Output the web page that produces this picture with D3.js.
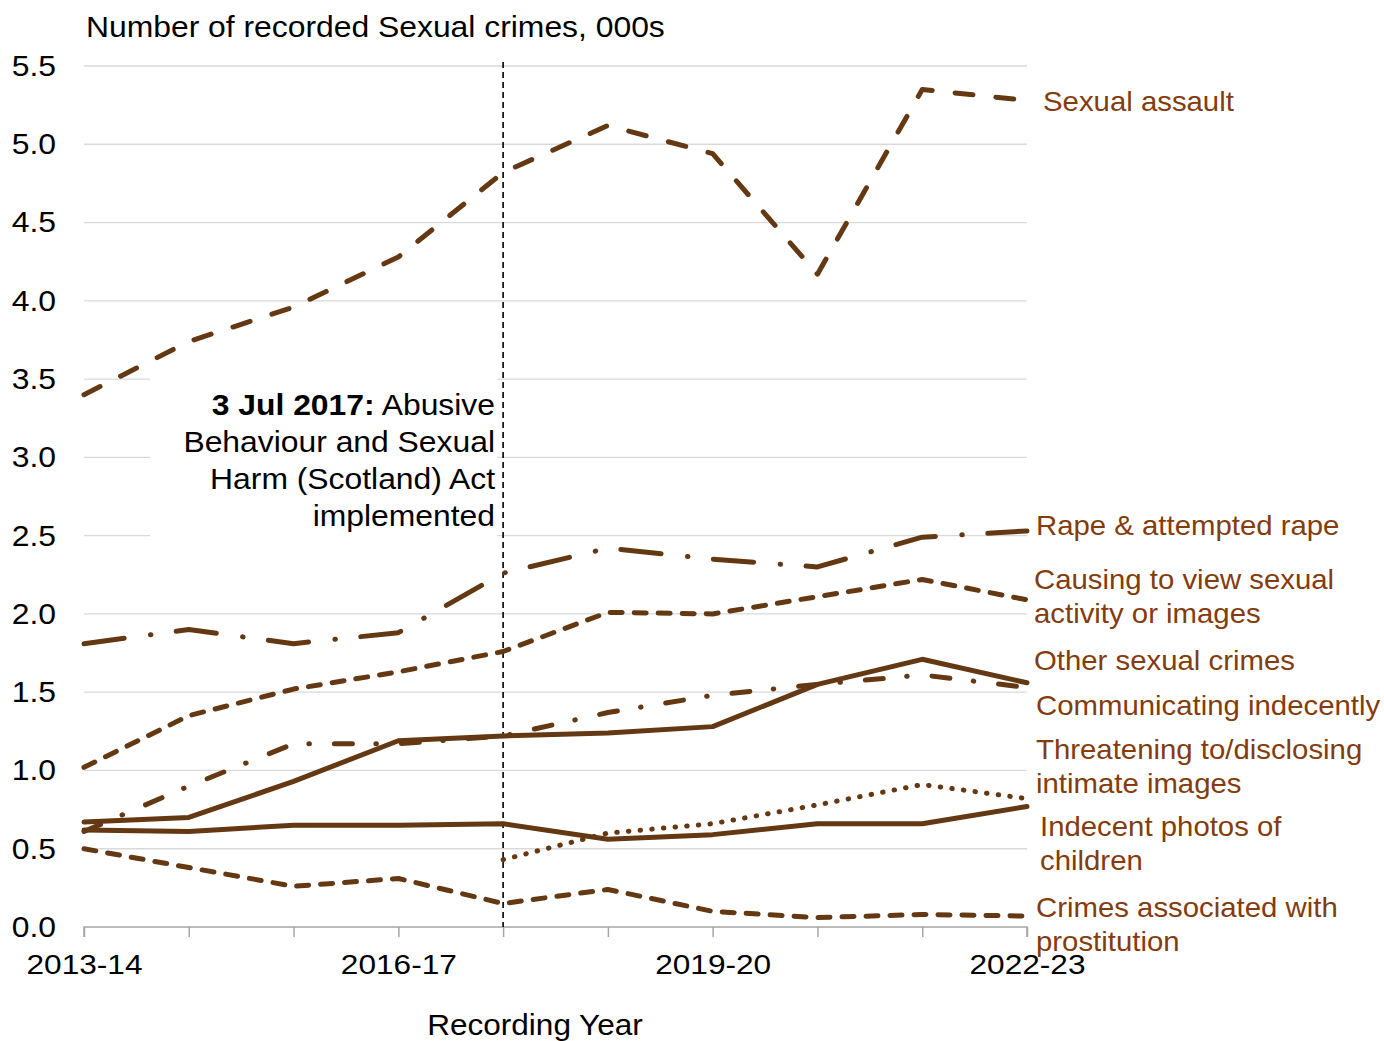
<!DOCTYPE html>
<html>
<head>
<meta charset="utf-8">
<script src="https://cdn.jsdelivr.net/npm/d3@7"></script>
<style>
  html, body { margin: 0; padding: 0; background: #fff; }
  svg { display: block; font-family: "Liberation Sans", Arial, sans-serif; }
</style>
</head>
<body>
<svg id="chart" width="1384" height="1041"></svg>
<script>
// Recording years
const years = ["2013-14","2014-15","2015-16","2016-17","2017-18","2018-19","2019-20","2020-21","2021-22","2022-23"];
const labelledYears = ["2013-14","2016-17","2019-20","2022-23"];
const yTicks = [0,0.5,1,1.5,2,2.5,3,3.5,4,4.5,5,5.5];

// Recorded crimes, thousands (null = not yet an offence)
const sexualAssault   = [3.40,3.74,3.96,4.28,4.82,5.12,4.94,4.17,5.35,5.28];
const rape            = [1.81,1.90,1.81,1.88,2.26,2.42,2.35,2.30,2.49,2.53];
const causingToView   = [1.02,1.35,1.52,1.63,1.76,2.01,2.00,2.11,2.22,2.09];
const otherSexual     = [0.67,0.70,0.93,1.19,1.22,1.24,1.28,1.55,1.71,1.56];
const communicating   = [0.61,0.90,1.17,1.17,1.22,1.37,1.48,1.55,1.61,1.53];
const threatening     = [null,null,null,null,0.43,0.60,0.66,0.78,0.91,0.82];
const indecentPhotos  = [0.62,0.61,0.65,0.65,0.66,0.56,0.59,0.66,0.66,0.77];
const prostitution    = [0.50,0.38,0.26,0.31,0.15,0.24,0.10,0.06,0.08,0.07];

const seriesNames = [
  ["Sexual assault"],
  ["Rape & attempted rape"],
  ["Causing to view sexual","activity or images"],
  ["Other sexual crimes"],
  ["Communicating indecently"],
  ["Threatening to/disclosing","intimate images"],
  ["Indecent photos of","children"],
  ["Crimes associated with","prostitution"]
];
const seriesValues = [sexualAssault, rape, causingToView, otherSexual, communicating, threatening, indecentPhotos, prostitution];

// Line styles and label placement
const dashes = ["18,23", "40.5,26.5,0.5,25.5", "12,12", null, "18,23.5,0.5,25", "0.5,11.2", null, "12,12"];
const labelPos = [[1043,101],[1036,525],[1034,579],[1034,660],[1036,705],[1036,749],[1040,826],[1036,907]];

const lineColor = "#643812";
const labelColor = "#843c0c";
const fontSize = 29.5;
const labelFontSize = 28.5;

const svg = d3.select("#chart");
const x = d3.scalePoint().domain(years).range([84, 1027]);
const y = d3.scaleLinear().domain([0, 5.5]).range([927, 66]);

// Text anchored at (px, py) and widened horizontally by sx
function wideText(parent, px, py, sx, size) {
  return parent.append("text")
    .attr("transform", `translate(${px},${py}) scale(${sx},1)`)
    .attr("font-size", size);
}

// Gridlines
svg.append("g").selectAll("line").data(yTicks.filter(d => d > 0)).join("line")
  .attr("x1", 84).attr("x2", 1027)
  .attr("y1", d => y(d)).attr("y2", d => y(d))
  .attr("stroke", "#d9d9d9").attr("stroke-width", 1.3);

// Y axis labels
const yAxis = d3.axisLeft(y).tickValues(yTicks).tickFormat(d3.format(".1f")).tickSize(0).tickPadding(0);
const gy = svg.append("g").attr("transform", "translate(56,0)").call(yAxis);
gy.select(".domain").remove();
gy.selectAll("text").attr("font-size", fontSize).attr("fill", "#000")
  .attr("font-family", "Liberation Sans, Arial, sans-serif")
  .attr("x", 0).attr("transform", "scale(1.08,1)");

// X axis
const xAxis = d3.axisBottom(x).tickSize(10).tickPadding(17)
  .tickFormat(d => labelledYears.includes(d) ? d : "");
const gx = svg.append("g").attr("transform", "translate(0,927)").call(xAxis);
gx.select(".domain").attr("stroke", "#a6a6a6").attr("stroke-width", 1.5).attr("d", "M84,10V0H1027V10");
gx.selectAll(".tick line").attr("stroke", "#a6a6a6").attr("stroke-width", 1.5);
gx.selectAll("text").attr("font-size", 28.5).attr("fill", "#000")
  .attr("font-family", "Liberation Sans, Arial, sans-serif")
  .attr("transform", "scale(1.11,1)");

// Annotation backdrop hides gridlines behind the text
svg.append("rect").attr("x", 150).attr("y", 376).attr("width", 347).attr("height", 165).attr("fill", "#fff");

// Policy change marker
svg.append("line")
  .attr("x1", x("2017-18")).attr("x2", x("2017-18"))
  .attr("y1", 62).attr("y2", 927)
  .attr("stroke", "#000").attr("stroke-width", 1.6).attr("stroke-dasharray", "6,4");

const annLines = [["3 Jul 2017:", " Abusive"], [null, "Behaviour and Sexual"], [null, "Harm (Scotland) Act"], [null, "implemented"]];
annLines.forEach((ln, i) => {
  const t = wideText(svg, 495, 415 + i * 37, 1.08, fontSize).attr("text-anchor", "end").attr("fill", "#000");
  if (ln[0]) {
    t.append("tspan").text(ln[0]).attr("font-weight", "bold");
    t.append("tspan").text(ln[1]);
  } else {
    t.text(ln[1]);
  }
});

// Series lines
const line = d3.line()
  .defined(d => d.v !== null)
  .x(d => x(d.year))
  .y(d => y(d.v));

seriesValues.forEach((vals, i) => {
  const pts = years.map((yr, j) => ({ year: yr, v: vals[j] }));
  svg.append("path")
    .datum(pts)
    .attr("d", line)
    .attr("fill", "none")
    .attr("stroke", lineColor)
    .attr("stroke-width", 5)
    .attr("stroke-linecap", "round")
    .attr("stroke-linejoin", "round")
    .attr("stroke-dasharray", dashes[i]);
});

// Series labels
seriesNames.forEach((lines, i) => {
  lines.forEach((s, k) => {
    wideText(svg, labelPos[i][0], labelPos[i][1] + k * 34, 1.03, labelFontSize)
      .attr("fill", labelColor).attr("dy", "0.35em").text(s);
  });
});

// Titles
wideText(svg, 86, 37, 1.08, fontSize).attr("fill", "#000")
  .text("Number of recorded Sexual crimes, 000s");
wideText(svg, 535, 1035, 1.07, fontSize).attr("text-anchor", "middle").attr("fill", "#000")
  .text("Recording Year");
</script>
</body>
</html>
